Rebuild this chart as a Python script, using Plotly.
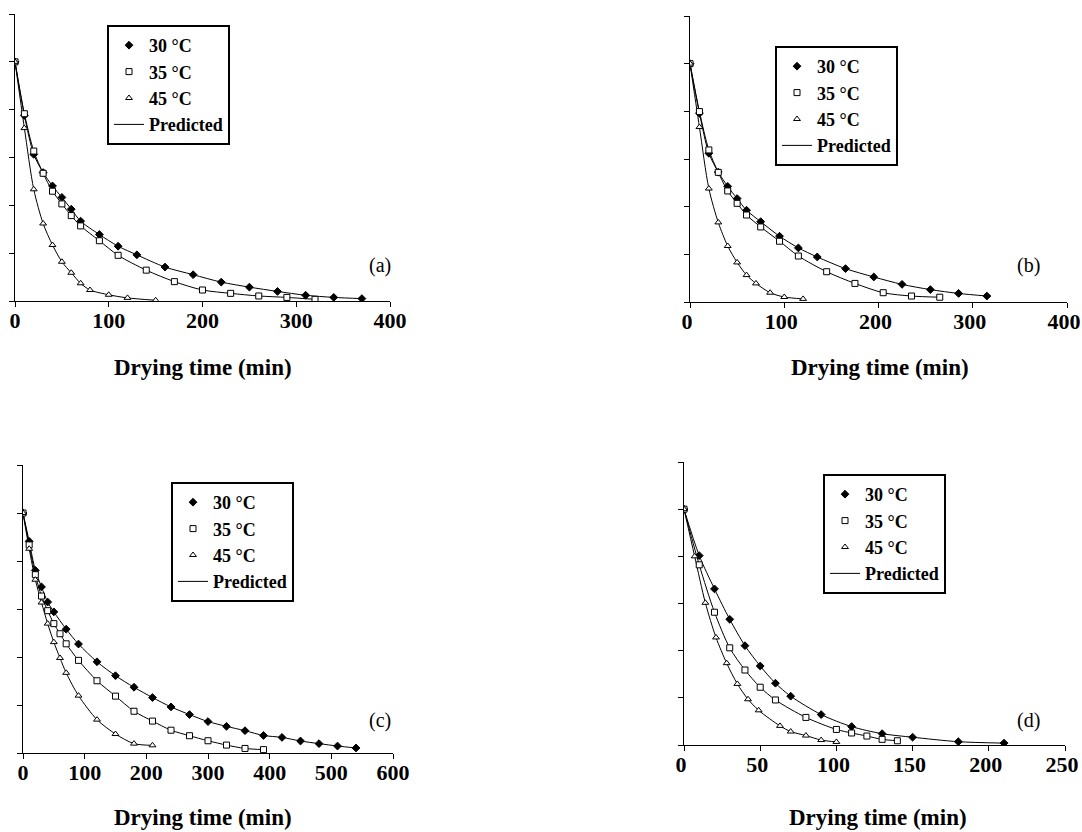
import plotly.graph_objects as go

# ---------------- data ----------------
# Panel (a)
a_t30 = [0, 10, 20, 30, 40, 50, 60, 70, 90, 110, 130, 160, 190, 220, 250, 280, 310, 340, 370]
a_v30 = [1.0, 0.776, 0.613, 0.537, 0.481, 0.433, 0.384, 0.334, 0.278, 0.229, 0.193, 0.142, 0.110, 0.079, 0.058, 0.040, 0.024, 0.015, 0.010]
a_t35 = [0, 10, 20, 30, 40, 50, 60, 70, 90, 110, 140, 170, 200, 230, 260, 290, 320]
a_v35 = [1.0, 0.783, 0.627, 0.534, 0.459, 0.406, 0.357, 0.314, 0.252, 0.191, 0.129, 0.081, 0.046, 0.032, 0.021, 0.015, 0.007]
a_t45 = [0, 10, 20, 30, 40, 50, 60, 70, 80, 100, 120, 150]
a_v45 = [1.0, 0.723, 0.467, 0.324, 0.234, 0.164, 0.118, 0.074, 0.046, 0.026, 0.013, 0.003]

# Panel (b)
b_t30 = [0, 10, 20, 30, 40, 50, 60, 75, 95, 115, 135, 165, 195, 225, 255, 285, 315]
b_v30 = [1.0, 0.792, 0.624, 0.545, 0.485, 0.434, 0.385, 0.337, 0.276, 0.227, 0.189, 0.140, 0.105, 0.074, 0.052, 0.036, 0.025]
b_t35 = [0, 10, 20, 30, 40, 50, 60, 75, 95, 115, 145, 175, 205, 235, 265]
b_v35 = [1.0, 0.799, 0.638, 0.544, 0.466, 0.414, 0.365, 0.315, 0.255, 0.193, 0.127, 0.078, 0.039, 0.025, 0.020]
b_t45 = [0, 10, 20, 30, 40, 50, 60, 70, 85, 100, 120]
b_v45 = [1.0, 0.734, 0.476, 0.334, 0.235, 0.166, 0.113, 0.078, 0.039, 0.021, 0.013]

# Panel (c)
c_t30 = [0, 10, 20, 30, 40, 50, 70, 90, 120, 150, 180, 210, 240, 270, 300, 330, 360, 390, 420, 450, 480, 510, 540]
c_v30 = [1.0, 0.882, 0.761, 0.692, 0.629, 0.588, 0.516, 0.454, 0.380, 0.322, 0.274, 0.231, 0.192, 0.160, 0.131, 0.111, 0.093, 0.073, 0.065, 0.050, 0.039, 0.029, 0.021]
c_t35 = [0, 10, 20, 30, 40, 50, 60, 70, 90, 120, 150, 180, 210, 240, 270, 300, 330, 360, 390]
c_v35 = [1.0, 0.867, 0.743, 0.654, 0.593, 0.539, 0.497, 0.455, 0.386, 0.301, 0.237, 0.174, 0.133, 0.095, 0.072, 0.051, 0.033, 0.019, 0.014]
c_t45 = [0, 10, 20, 30, 40, 50, 60, 70, 90, 120, 150, 180, 210]
c_v45 = [1.0, 0.851, 0.722, 0.627, 0.539, 0.462, 0.396, 0.334, 0.239, 0.139, 0.079, 0.039, 0.032]

# Panel (d)
d_t30 = [0, 10, 20, 30, 40, 50, 60, 70, 90, 110, 130, 150, 180, 210]
d_v30 = [1.0, 0.803, 0.662, 0.533, 0.421, 0.335, 0.262, 0.207, 0.129, 0.078, 0.048, 0.033, 0.014, 0.008]
d_t35 = [0, 10, 20, 30, 40, 50, 60, 80, 100, 110, 120, 130, 140]
d_v35 = [1.0, 0.764, 0.563, 0.412, 0.318, 0.245, 0.191, 0.117, 0.066, 0.051, 0.038, 0.024, 0.018]
d_t45 = [0, 7, 14, 21, 28, 35, 42, 49, 63, 70, 80, 90, 100]
d_v45 = [1.0, 0.800, 0.603, 0.456, 0.347, 0.259, 0.194, 0.147, 0.081, 0.057, 0.040, 0.021, 0.013]

series_names = ["30 °C", "35 °C", "45 °C"]
panel_labels = ["(a)", "(b)", "(c)", "(d)"]
x_ranges = [[0, 400], [0, 400], [0, 600], [0, 250]]
x_dticks = [100, 100, 100, 50]
x_title = "Drying time (min)"
pred_name = "Predicted"

panels = [
    [(a_t30, a_v30), (a_t35, a_v35), (a_t45, a_v45)],
    [(b_t30, b_v30), (b_t35, b_v35), (b_t45, b_v45)],
    [(c_t30, c_v30), (c_t35, c_v35), (c_t45, c_v45)],
    [(d_t30, d_v30), (d_t35, d_v35), (d_t45, d_v45)],
]

# ---------------- layout geometry (page pixels) ----------------
W, H = 1082, 832
FONT = "Liberation Serif, Times New Roman, serif"


def fx(px):
    return px / W


def fy(py):
    return (H - py) / H


# x0, x1, ytop, ybottom of each plotting area (page pixels)
boxes = [(15, 390, 14, 301), (690, 1067, 16, 302), (23, 393, 465, 753), (684, 1065, 462, 745)]
legend_pos = [(107, 25), (775, 46), (171, 482), (823, 474)]
label_pos = [(380, 265), (1028, 265), (380, 720), (1028, 720)]
title_pos = [(203, 367), (880, 367), (203, 817), (878, 817)]
label_shift = [0, -3, 0, -3]

markers = [
    dict(symbol="diamond", size=6, color="black", line=dict(color="black", width=1)),
    dict(symbol="square", size=6, color="white", line=dict(color="black", width=1)),
    dict(symbol="triangle-up", size=6, color="white", line=dict(color="black", width=1)),
]

fig = go.Figure()
layout = dict(
    template="none",
    width=W, height=H, margin=dict(l=0, r=0, t=0, b=0, autoexpand=False),
    paper_bgcolor="white", plot_bgcolor="white",
    font=dict(family=FONT, color="black"),
    showlegend=True,
)
annotations = []

for i, series in enumerate(panels):
    n = "" if i == 0 else str(i + 1)
    xa, ya = "x" + n, "y" + n
    lg = "legend" + n
    # predicted lines first (drawn under markers)
    for j, (t, v) in enumerate(series):
        fig.add_trace(go.Scatter(
            x=t, y=v, mode="lines", line=dict(color="black", width=1, shape="spline", smoothing=0.8),
            name=pred_name, showlegend=(j == 0), legend=lg, legendrank=4,
            xaxis=xa, yaxis=ya, hoverinfo="skip"))
    for j, (t, v) in enumerate(series):
        fig.add_trace(go.Scatter(
            x=t, y=v, mode="markers", marker=markers[j], name=series_names[j],
            legend=lg, legendrank=j + 1, xaxis=xa, yaxis=ya))

    x0, x1, yt, yb = boxes[i]
    layout["xaxis" + n] = dict(
        domain=[fx(x0), fx(x1)], range=x_ranges[i], dtick=x_dticks[i], tick0=0,
        showline=True, linecolor="black", linewidth=1, showgrid=False, zeroline=False,
        ticks="outside", ticklen=5, tickwidth=1, tickcolor="black",
        tickfont=dict(family=FONT, size=22, color="black", weight="bold"),
        ticklabeloverflow="allow", ticklabelstandoff=-5, ticklabelshift=label_shift[i],
        anchor=ya, fixedrange=True, automargin=False,
    )
    layout["yaxis" + n] = dict(
        domain=[fy(yb), fy(yt)], range=[0, 1.2], dtick=0.2, tick0=0,
        showline=True, linecolor="black", linewidth=1, showgrid=False, zeroline=False,
        ticks="outside", ticklen=5, tickwidth=1, tickcolor="black",
        showticklabels=False, anchor=xa, fixedrange=True, automargin=False,
    )
    lx, ly = legend_pos[i]
    layout[lg] = dict(
        x=fx(lx), y=fy(ly), xanchor="left", yanchor="top",
        bgcolor="white", bordercolor="black", borderwidth=2,
        font=dict(family=FONT, size=18, color="black", weight="bold"),
        tracegroupgap=0, itemwidth=30,
    )
    px, py = label_pos[i]
    annotations.append(dict(
        x=fx(px), y=fy(py), xref="paper", yref="paper", text=panel_labels[i],
        showarrow=False, font=dict(family=FONT, size=20, color="black"),
        xanchor="center", yanchor="middle"))
    tx, ty = title_pos[i]
    annotations.append(dict(
        x=fx(tx), y=fy(ty), xref="paper", yref="paper", text=x_title,
        showarrow=False, font=dict(family=FONT, size=23, color="black", weight="bold"),
        xanchor="center", yanchor="middle"))

layout["annotations"] = annotations
fig.update_layout(**layout)
fig.write_html(
    "out.html",
    config={"displayModeBar": False},
    post_script="document.body.style.margin='0';document.body.style.overflow='hidden';",
)
